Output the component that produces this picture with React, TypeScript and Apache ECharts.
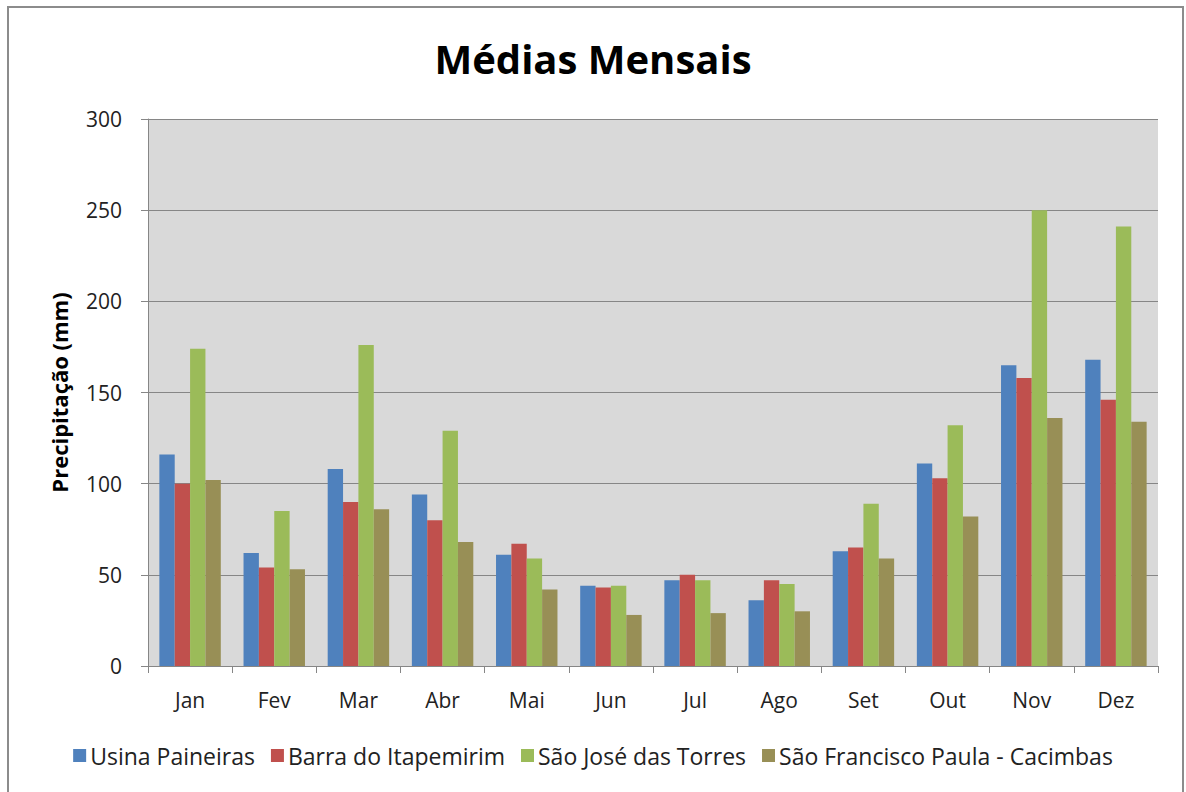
import React, { useEffect, useRef } from "react";
import * as echarts from "echarts";

const months = ["Jan", "Fev", "Mar", "Abr", "Mai", "Jun", "Jul", "Ago", "Set", "Out", "Nov", "Dez"];
const usinaPaineiras = [116, 62, 108, 94, 61, 44, 47, 36, 63, 111, 165, 168];
const barraItapemirim = [100, 54, 90, 80, 67, 43, 50, 47, 65, 103, 158, 146];
const saoJoseTorres = [174, 85, 176, 129, 59, 44, 47, 45, 89, 132, 250, 241];
const saoFranciscoCacimbas = [102, 53, 86, 68, 42, 28, 29, 30, 59, 82, 136, 134];
const yTicks = [0, 50, 100, 150, 200, 250, 300];

const FONT = "'Open Sans', 'Noto Sans', sans-serif";

export default function App() {
  const ref = useRef<HTMLDivElement>(null);
  useEffect(() => {
    document.body.style.margin = "0";
    const chart = echarts.init(ref.current!, undefined, { renderer: "svg" });
    const mk = (name: string, data: number[], color: string) => ({
      name,
      type: "bar",
      data,
      barGap: "0%",
      barCategoryGap: "27%",
      itemStyle: { color },
    });
    chart.setOption({
      animation: false,
      backgroundColor: "#ffffff",
      textStyle: { fontFamily: FONT },
      title: {
        text: "Médias Mensais",
        left: "center",
        top: 33,
        textStyle: { fontFamily: FONT, fontSize: 40, fontWeight: "bold", color: "#000" },
      },
      graphic: [
        {
          type: "rect",
          shape: { x: 8, y: 7, width: 1175, height: 830 },
          style: { fill: "none", stroke: "#8c8c8c", lineWidth: 2 },
          silent: true,
        },
      ],
      legend: {
        bottom: 20,
        left: "center",
        itemWidth: 13,
        itemHeight: 13,
        itemGap: 16,
        icon: "rect",
        textStyle: { fontFamily: FONT, fontSize: 23, color: "#222", padding: [0, 0, 0, -1] },
        data: ["Usina Paineiras", "Barra do Itapemirim", "São José das Torres", "São Francisco Paula - Cacimbas"],
      },
      grid: {
        left: 148,
        right: 28,
        top: 119,
        bottom: 126,
        show: true,
        backgroundColor: "#D9D9D9",
        borderWidth: 0,
      },
      xAxis: {
        type: "category",
        data: months,
        axisLine: { lineStyle: { color: "#868686", width: 1 } },
        axisTick: { show: true, length: 7, lineStyle: { color: "#868686" } },
        axisLabel: { fontFamily: FONT, fontSize: 21, color: "#222", margin: 23 },
      },
      yAxis: {
        type: "value",
        min: yTicks[0],
        max: yTicks[yTicks.length - 1],
        interval: 50,
        name: "Precipitação (mm)",
        nameLocation: "middle",
        nameGap: 78,
        nameTextStyle: { fontFamily: FONT, fontSize: 22, fontWeight: "bold", color: "#000" },
        axisLine: { show: true, lineStyle: { color: "#868686", width: 1 } },
        axisTick: { show: true, length: 7, lineStyle: { color: "#868686" } },
        axisLabel: { fontFamily: FONT, fontSize: 21, color: "#222", margin: 26 },
        splitLine: { show: true, lineStyle: { color: "#868686", width: 1 } },
      },
      series: [
        mk("Usina Paineiras", usinaPaineiras, "#4F81BD"),
        mk("Barra do Itapemirim", barraItapemirim, "#C0504D"),
        mk("São José das Torres", saoJoseTorres, "#9BBB59"),
        mk("São Francisco Paula - Cacimbas", saoFranciscoCacimbas, "#988F56"),
      ],
    });
    return () => chart.dispose();
  }, []);
  return <div ref={ref} style={{ width: 1186, height: 792 }} />;
}
